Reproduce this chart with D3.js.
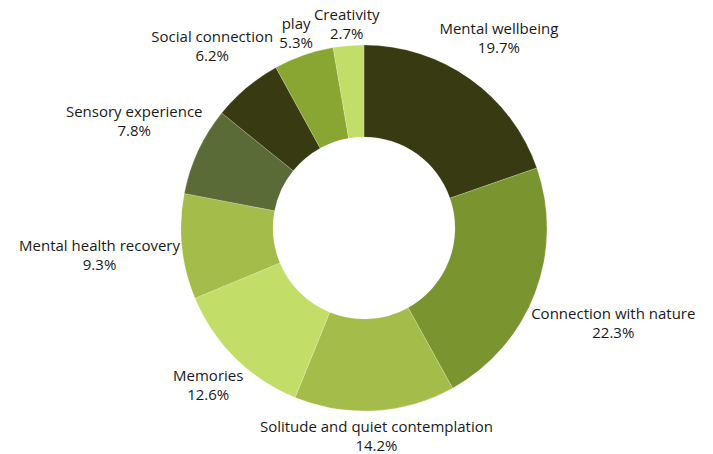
<!DOCTYPE html>
<html>
<head>
<meta charset="utf-8">
<script src="https://cdn.jsdelivr.net/npm/d3@7"></script>
<style>
  html, body { margin: 0; padding: 0; background: #fff; }
  text { font-family: "Open Sans", sans-serif; font-size: 15px; fill: #1a1a1a; }
</style>
</head>
<body>
<svg id="chart" width="713" height="454"></svg>
<script>
// Reasons for visiting green spaces, share of responses (%)
const categories = [
  "Mental wellbeing",
  "Connection with nature",
  "Solitude and quiet contemplation",
  "Memories",
  "Mental health recovery",
  "Sensory experience",
  "Social connection",
  "play",
  "Creativity"
];
const values = [19.7, 22.3, 14.2, 12.6, 9.3, 7.8, 6.2, 5.3, 2.7];
const colors = [
  "#383b12", "#7a9530", "#a4bd4a", "#c2dd68", "#a4bd4a",
  "#5a6b38", "#383b12", "#8aa632", "#c2dd68"
];

const width = 713, height = 454;
const cx = 364, cy = 228;
const outerR = 183, innerR = 91;

const svg = d3.select("#chart");
const g = svg.append("g").attr("transform", `translate(${cx},${cy})`);

const data = categories.map((c, i) => ({ name: c, value: values[i], color: colors[i] }));

const pie = d3.pie().value(d => d.value).sort(null);
const arc = d3.arc().innerRadius(innerR).outerRadius(outerR);
const arcs = pie(data);

g.selectAll("path.slice")
  .data(arcs)
  .enter().append("path")
  .attr("class", "slice")
  .attr("d", arc)
  .attr("fill", d => d.data.color)
  .attr("stroke", "#ffffff")
  .attr("stroke-width", 0.5)
  .attr("stroke-opacity", 0.4);

// Labels: two-line blocks set just outside the ring along each slice's mid-angle
const lineGap = 19;
const pad = 1;
const labels = g.selectAll("g.label")
  .data(arcs)
  .enter().append("g")
  .attr("class", "label");

labels.each(function (d) {
  const sel = d3.select(this);
  const t1 = sel.append("text").attr("text-anchor", "middle").text(d.data.name);
  const t2 = sel.append("text").attr("text-anchor", "middle").text(d.data.value.toFixed(1) + "%");
  const w = Math.max(t1.node().getComputedTextLength(), t2.node().getComputedTextLength());
  const h = lineGap + 16;
  const a = (d.startAngle + d.endAngle) / 2;
  const ux = Math.sin(a), uy = -Math.cos(a);
  const dist = outerR + pad + Math.abs(ux) * w / 2 + Math.abs(uy) * h / 2;
  const x = ux * dist, y = uy * dist;
  t1.attr("x", x).attr("y", y - lineGap / 2).attr("dy", "0.35em");
  t2.attr("x", x).attr("y", y + lineGap / 2).attr("dy", "0.35em");
});
</script>
</body>
</html>
